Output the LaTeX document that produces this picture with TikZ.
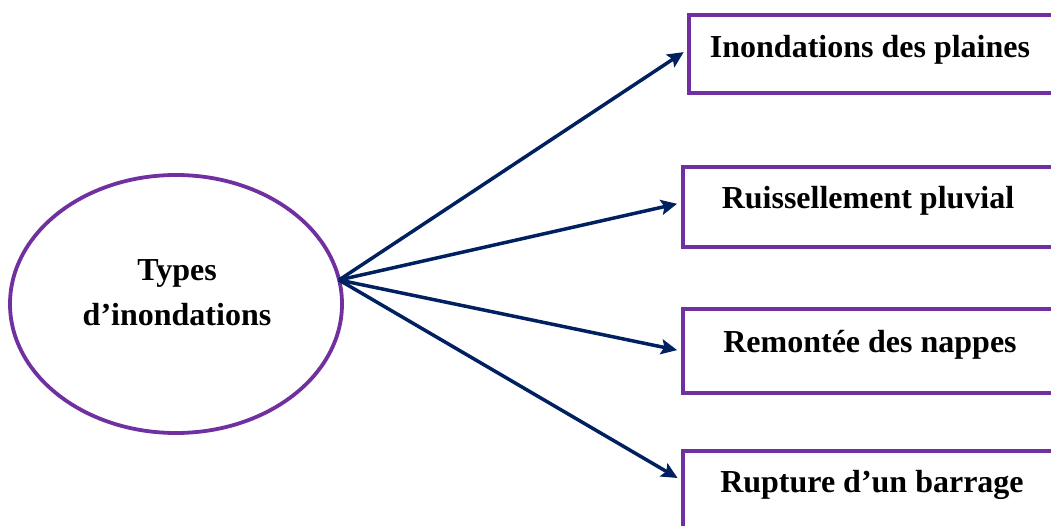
\documentclass[tikz,border=0pt]{standalone}
\usepackage{fontspec}
\setmainfont{Liberation Serif}
\usetikzlibrary{arrows.meta,shapes.geometric}
\definecolor{frame}{HTML}{7030A0}
\definecolor{navy}{HTML}{002060}
\tikzset{
  box/.style={draw=frame, line width=3.8pt, rectangle, anchor=north west, inner sep=0pt},
  lbl/.style={font=\fontsize{32}{45}\selectfont\bfseries, text=black, inner sep=0pt, align=center},
  arr/.style={draw=navy, line width=3.5pt, -{Stealth[length=16pt,width=15pt,inset=3pt]}, shorten >=4pt},
}
\begin{document}
\begin{tikzpicture}[x=1pt,y=-1pt]
\useasboundingbox (0,0) rectangle (1051,526);
\clip (0,0) rectangle (1051,526);
\node[draw=frame, line width=3.8pt, ellipse, minimum width=332pt, minimum height=258pt, inner sep=0pt] (el) at (176,304) {};
\node[lbl] (t0) at (177,293) {Types\\d’inondations};
\coordinate (hub) at (339,280);
\node[box, minimum width=390pt, minimum height=78pt] (b1) at (687,13) {};
\node[box, minimum width=390pt, minimum height=80pt] (b2) at (681,165) {};
\node[box, minimum width=390pt, minimum height=84pt] (b3) at (681,307) {};
\node[box, minimum width=390pt, minimum height=90pt] (b4) at (681,449) {};
\node[lbl] (t1) at (870,50) {Inondations des plaines};
\node[lbl] (t2) at (868,201) {Ruissellement pluvial};
\node[lbl] (t3) at (870,345) {Remontée des nappes};
\node[lbl] (t4) at (872,485) {Rupture d’un barrage};
\draw[arr] (hub) -- ([yshift=4pt]b1.west);
\draw[arr] (hub) -- ([yshift=4pt]b2.west);
\draw[arr] (hub) -- (b3.west);
\draw[arr] (hub) -- ([yshift=4pt]b4.north west |- 0,484);
\end{tikzpicture}
\end{document}
